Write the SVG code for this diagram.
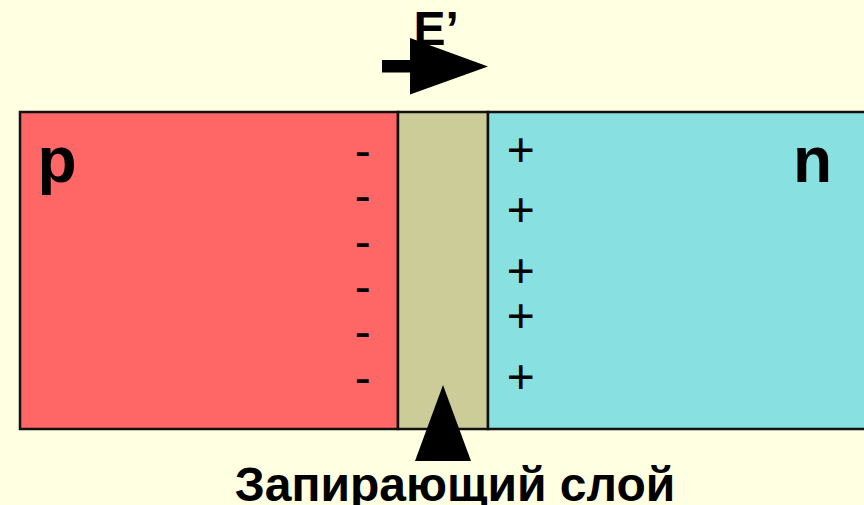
<svg xmlns="http://www.w3.org/2000/svg" width="864" height="505" viewBox="0 0 864 505">
<style>
.reg{stroke:#111;stroke-width:2.5}
.big{font-family:"Liberation Sans",Arial,sans-serif;font-weight:bold;fill:#000}
.sign{font-family:"Liberation Sans",Arial,sans-serif;font-size:48px;fill:#000;text-anchor:middle}
</style>
<rect x="0" y="0" width="864" height="505" fill="#FFFFE1"/>
<g id="p-region">
<rect class="reg" x="20" y="112" width="378" height="317" fill="#FF6666"/>
<text class="big" x="37.5" y="181.5" font-size="64">p</text>
<text class="sign" x="362.7" y="167">-</text>
<text class="sign" x="362.7" y="212">-</text>
<text class="sign" x="362.7" y="258">-</text>
<text class="sign" x="362.7" y="303">-</text>
<text class="sign" x="362.7" y="348">-</text>
<text class="sign" x="362.7" y="393.5">-</text>
</g>
<g id="depletion-layer">
<rect class="reg" x="398" y="112" width="90" height="317" fill="#CCCC99"/>
</g>
<g id="n-region">
<rect class="reg" x="488" y="112" width="390" height="317" fill="#88E0E0"/>
<text class="big" x="793" y="181.5" font-size="64">n</text>
<text class="sign" x="520.7" y="166">+</text>
<text class="sign" x="520.7" y="226">+</text>
<text class="sign" x="520.7" y="287">+</text>
<text class="sign" x="520.7" y="332">+</text>
<text class="sign" x="520.7" y="393">+</text>
</g>
<g id="field-label">
<text class="big" x="413.5" y="45" font-size="48">E’</text>
</g>
<g id="connectors">
<rect x="382" y="60" width="30" height="12.5" fill="#000"/>
<polygon points="410,38 488,66.5 410,94.5" fill="#000"/>
<polygon points="443,385 471,461 415,461" fill="#000"/>
</g>
<g id="layer-label">
<text class="big" x="455" y="500.5" font-size="48" text-anchor="middle">Запирающий слой</text>
</g>
</svg>
